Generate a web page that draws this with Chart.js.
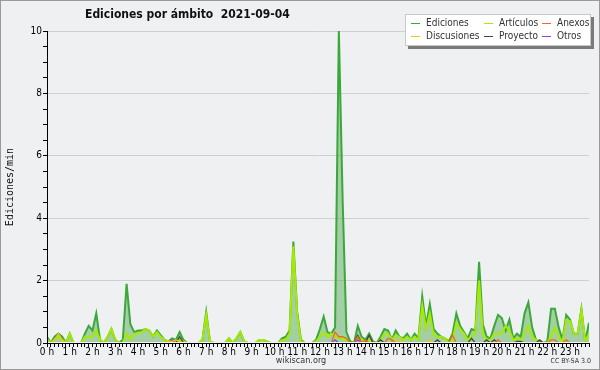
<!DOCTYPE html>
<html>
<head>
<meta charset="utf-8">
<script src="https://cdn.jsdelivr.net/npm/chart.js@4.4.0/dist/chart.umd.min.js"></script>
<style>
  body { margin: 0; background: #fff; }
  #wrap { position: relative; width: 600px; height: 370px; box-sizing: border-box;
          border: 1px solid #9a9a9a; background: #eff0f1; overflow: hidden;
          font-family: "DejaVu Sans Condensed", "DejaVu Sans", sans-serif; }
  #chart { position: absolute; left: -1px; top: -1px; }
  #title { position: absolute; left: 84px; top: 6px; font-size: 12px; font-weight: bold; color: #111; white-space: pre; }
  #legend { position: absolute; left: 404px; top: 13px; width: 184px; height: 30px;
            background: #fff; border: 1px solid #c8c8c8; box-shadow: 3px 3px 0 #7a7a7a; }
  .item { position: absolute; font-size: 10px; color: #333; white-space: nowrap; line-height: 12px; }
  .item i { display: inline-block; width: 9px; height: 1px; vertical-align: middle; margin-right: 6px; }
  #site { position: absolute; left: 0; width: 600px; top: 354px; text-align: center; font-size: 9px; color: #333; }
  #cc { position: absolute; right: 8px; top: 356px; font-size: 7px; color: #333; }
</style>
</head>
<body>
<div id="wrap">
  <canvas id="chart" width="600" height="370"></canvas>
  <div id="title">Ediciones por ámbito  2021-09-04</div>
  <div id="legend"></div>
  <div id="site">wikiscan.org</div>
  <div id="cc">CC BY-SA 3.0</div>
</div>
<script>
// edits per minute, one value per 10 minutes (00:00 .. 23:50), 12 values = 2 hours per row
const ediciones = [
  0.2, 0, 0.2, 0.3, 0.2, 0, 0.3, 0, 0, 0, 0.3, 0.55,
  0.4, 0.95, 0.1, 0, 0.2, 0.45, 0.1, 0, 0.1, 1.9, 0.6, 0.35,
  0.4, 0.4, 0.45, 0.4, 0.2, 0.4, 0.25, 0.1, 0.05, 0.15, 0.1, 0.35,
  0.1, 0, 0, 0, 0, 0.1, 1.0, 0.05, 0, 0, 0, 0,
  0.15, 0, 0.15, 0.35, 0.05, 0, 0, 0, 0.1, 0.1, 0.05, 0,
  0, 0, 0.15, 0.2, 0.4, 3.25, 1.0, 0.1, 0, 0, 0, 0.1,
  0.45, 0.85, 0.35, 0.3, 0.5, 10, 4.6, 0.35, 0.05, 0, 0.55, 0.2,
  0.1, 0.3, 0.05, 0, 0.2, 0.45, 0.4, 0.1, 0.4, 0.2, 0.15, 0.3,
  0.1, 0.3, 0.15, 1.5, 0.55, 1.25, 0.45, 0.3, 0.2, 0.15, 0.05, 0.3,
  0.95, 0.55, 0.35, 0.15, 0.45, 0.4, 2.6, 0.6, 0.2, 0.15, 0.55, 0.9,
  0.8, 0.4, 0.75, 0.15, 0.3, 0.2, 0.95, 1.3, 0.5, 0.1, 0.05, 0,
  0.05, 1.1, 1.1, 0.5, 0.1, 0.9, 0.75, 0.3, 0.3, 1.1, 0.05, 0.65
];
const articulos = [
  0.1, 0, 0.1, 0.2, 0.1, 0, 0.3, 0, 0, 0, 0.2, 0.2,
  0.2, 0.4, 0.1, 0, 0.2, 0.45, 0.1, 0, 0, 0.3, 0.1, 0.3,
  0.3, 0.35, 0.45, 0.4, 0.2, 0.35, 0.2, 0.1, 0.05, 0.05, 0.05, 0.1,
  0.05, 0, 0, 0, 0, 0.1, 0.9, 0.05, 0, 0, 0, 0,
  0.15, 0, 0.15, 0.35, 0.05, 0, 0, 0, 0.1, 0.1, 0.05, 0,
  0, 0, 0.1, 0.1, 0.3, 3.1, 0.9, 0.05, 0, 0, 0, 0.05,
  0.2, 0.35, 0.2, 0.3, 0.2, 0.15, 0.15, 0.1, 0, 0, 0.2, 0.1,
  0.05, 0.1, 0, 0, 0.1, 0.3, 0.3, 0.1, 0.25, 0.2, 0.1, 0.2,
  0.1, 0.2, 0.1, 1.2, 0.45, 0.95, 0.25, 0.2, 0.2, 0.15, 0, 0.1,
  0.65, 0.45, 0.3, 0.1, 0.2, 0.3, 2.0, 0.3, 0.1, 0.1, 0.3, 0.3,
  0.3, 0.55, 0.4, 0.1, 0.15, 0.1, 0.3, 0.55, 0.2, 0.1, 0, 0,
  0, 0.2, 0.5, 0.2, 0.05, 0.75, 0.7, 0.3, 0.3, 1.05, 0.05, 0.3
];
const discusiones = [
  0, 0, 0.1, 0.3, 0.1, 0, 0, 0, 0, 0, 0, 0,
  0, 0, 0, 0, 0, 0, 0, 0, 0, 0, 0, 0,
  0, 0, 0, 0, 0, 0, 0, 0, 0.05, 0.05, 0.1, 0.05,
  0, 0, 0, 0, 0, 0, 0, 0, 0, 0, 0, 0,
  0, 0, 0, 0, 0, 0, 0, 0, 0, 0, 0, 0,
  0, 0, 0, 0, 0, 0, 0, 0, 0, 0, 0, 0,
  0, 0, 0, 0, 0, 0, 0, 0, 0, 0, 0, 0,
  0, 0, 0, 0, 0, 0, 0, 0, 0.05, 0.1, 0, 0,
  0, 0, 0, 0, 0, 0.1, 0, 0, 0, 0, 0, 0,
  0, 0, 0, 0, 0, 0, 0, 0, 0, 0, 0, 0,
  0, 0, 0, 0, 0, 0, 0, 0, 0, 0, 0, 0,
  0, 0, 0, 0, 0, 0, 0, 0, 0, 0, 0, 0
];
const proyecto = [
  0, 0, 0, 0, 0, 0, 0, 0, 0, 0, 0, 0,
  0, 0, 0, 0, 0, 0, 0, 0, 0, 0, 0, 0,
  0, 0, 0, 0, 0, 0, 0, 0, 0, 0, 0, 0.2,
  0, 0, 0, 0, 0, 0, 0, 0, 0, 0, 0, 0,
  0, 0, 0, 0, 0, 0, 0, 0, 0, 0, 0, 0,
  0, 0, 0, 0, 0, 0, 0, 0, 0, 0, 0, 0,
  0, 0, 0, 0, 0, 0, 0, 0, 0, 0, 0.25, 0,
  0, 0.25, 0, 0, 0.1, 0, 0, 0, 0, 0, 0, 0,
  0, 0, 0, 0, 0, 0, 0, 0.1, 0, 0, 0, 0,
  0, 0, 0, 0, 0.15, 0, 0, 0, 0.1, 0, 0.1, 0,
  0, 0, 0, 0, 0.05, 0.05, 0, 0, 0, 0, 0.1, 0,
  0, 0, 0, 0, 0, 0, 0, 0, 0, 0, 0, 0
];
const anexos = [
  0, 0, 0, 0, 0, 0, 0, 0, 0, 0, 0, 0,
  0, 0, 0, 0, 0, 0, 0, 0, 0, 0, 0, 0,
  0, 0, 0, 0, 0, 0, 0, 0, 0, 0, 0, 0,
  0, 0, 0, 0, 0, 0, 0, 0, 0, 0, 0, 0,
  0, 0, 0, 0, 0, 0, 0, 0, 0, 0, 0, 0,
  0, 0, 0, 0, 0, 0, 0, 0, 0, 0, 0, 0,
  0, 0, 0, 0, 0.35, 0.2, 0.2, 0.15, 0, 0, 0.2, 0,
  0.1, 0, 0, 0, 0, 0, 0.15, 0.1, 0, 0, 0, 0,
  0, 0, 0, 0, 0, 0, 0, 0, 0, 0, 0, 0.25,
  0, 0, 0, 0, 0, 0, 0, 0, 0, 0, 0, 0.1,
  0, 0, 0, 0, 0, 0, 0, 0, 0, 0, 0, 0,
  0, 0.1, 0.1, 0, 0, 0.1, 0, 0, 0, 0, 0, 0
];
const otros = [
  0, 0, 0, 0, 0, 0, 0, 0, 0, 0, 0, 0,
  0, 0, 0, 0, 0, 0, 0, 0, 0, 0, 0, 0,
  0, 0, 0, 0, 0, 0, 0, 0, 0, 0.1, 0, 0,
  0, 0, 0, 0, 0, 0, 0, 0, 0, 0, 0, 0,
  0, 0, 0, 0, 0, 0, 0, 0, 0, 0, 0, 0,
  0, 0, 0, 0, 0, 0, 0, 0, 0, 0, 0, 0,
  0, 0, 0, 0, 0.1, 0, 0, 0, 0, 0, 0.1, 0,
  0, 0, 0, 0, 0, 0, 0, 0, 0, 0, 0, 0,
  0, 0, 0, 0, 0, 0, 0, 0, 0, 0, 0, 0,
  0, 0, 0, 0, 0, 0, 0, 0, 0, 0, 0, 0,
  0, 0, 0, 0, 0, 0, 0, 0, 0, 0, 0, 0,
  0, 0, 0, 0, 0, 0, 0, 0, 0, 0, 0, 0
];

// 10 minute slots for the category axis
const slots = [];
for (let h = 0; h < 24; h++) {
  for (let m = 0; m < 60; m += 10) slots.push(h + ':' + String(m).padStart(2, '0'));
}

const series = [
  { label: 'Ediciones',   data: ediciones,   color: '#3aa83a' },
  { label: 'Artículos',   data: articulos,   color: '#a6ea00' },
  { label: 'Anexos',      data: anexos,      color: '#ee6a22' },
  { label: 'Discusiones', data: discusiones, color: '#f2c21c' },
  { label: 'Proyecto',    data: proyecto,    color: '#444444' },
  { label: 'Otros',       data: otros,       color: '#9040e8' }
];

const FONT = '"DejaVu Sans Condensed", "DejaVu Sans", sans-serif';

// legend, laid out in 3 columns like the original
const legendPos = [[0, 0], [1, 0], [2, 0], [0, 1], [1, 1], [2, 1]];
const colX = [5, 78, 136];
const legend = document.getElementById('legend');
series.forEach((s, k) => {
  const el = document.createElement('div');
  el.className = 'item';
  el.style.left = colX[legendPos[k][0]] + 'px';
  el.style.top = (2 + legendPos[k][1] * 13) + 'px';
  el.innerHTML = '<i style="background:' + s.color + '"></i>' + s.label;
  legend.appendChild(el);
});

const datasets = series.map((s, k) => ({
  label: s.label,
  data: s.data,
  borderColor: s.color,
  borderWidth: k < 2 ? 2 : 1.3,
  backgroundColor: k === 0 ? 'rgba(60,160,60,0.42)' : 'transparent',
  fill: k === 0 ? 'origin' : false,
  pointRadius: 0,
  tension: 0,
  // cut one pixel above the x axis so lines sitting on zero do not show
  clip: { left: 0, top: 0, right: 0, bottom: -1 },
  order: k === 0 ? 10 : (k === 1 ? 5 : 1)
}));

new Chart(document.getElementById('chart'), {
  type: 'line',
  data: { labels: slots, datasets: datasets },
  options: {
    responsive: false,
    animation: false,
    layout: { padding: { top: 31, right: 11, bottom: 7, left: 0 } },
    plugins: {
      legend: { display: false },
      title: { display: false },
      tooltip: { enabled: false }
    },
    scales: {
      x: {
        type: 'category',
        offset: false,
        grid: { drawOnChartArea: false, tickLength: 4, tickColor: '#000', color: '#000', z: 1 },
        border: { color: '#000', width: 1, z: 2 },
        ticks: {
          autoSkip: false, maxRotation: 0, minRotation: 0, padding: -1, color: '#000',
          font: { family: FONT, size: 10 },
          callback: (v, i) => i % 6 === 0 ? (i / 6) + ' h' : ''
        },
        afterFit: s => { s.height = 20; }
      },
      y: {
        min: 0, max: 10,
        grid: {
          color: c => (c.tick && c.tick.value > 0 && c.tick.value % 2 === 0) ? '#cfcfcf' : 'rgba(0,0,0,0)',
          tickColor: '#000', tickLength: 4
        },
        border: { color: '#000', width: 1, z: 2 },
        ticks: {
          stepSize: 0.5, padding: 1, color: '#000',
          font: { family: FONT, size: 10 },
          callback: v => v % 2 === 0 ? v : ''
        },
        title: {
          display: true, text: 'Ediciones/min', color: '#111',
          font: { family: '"DejaVu Sans Mono", monospace', size: 10 }, padding: { top: 4, bottom: 0 }
        },
        afterFit: s => { s.width = 47; }
      }
    }
  }
});
</script>
</body>
</html>
